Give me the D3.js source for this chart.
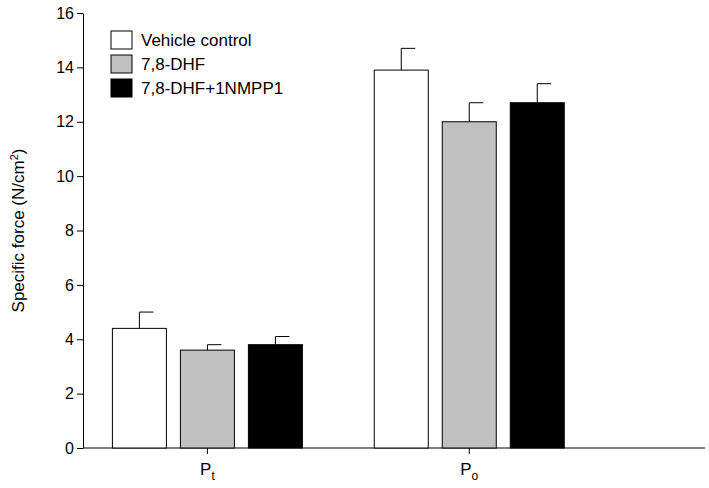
<!DOCTYPE html>
<html><head><meta charset="utf-8">
<script src="https://cdn.jsdelivr.net/npm/d3@7"></script>
<style>body{margin:0;background:#fff}svg{font-family:Arial,"Liberation Sans",sans-serif}</style>
</head><body>
<svg id="chart" width="709" height="488"></svg>
<script>
// data
const groups = ["Pt", "Po"]
const seriesNames = ["Vehicle control", "7,8-DHF", "7,8-DHF+1NMPP1"]
const seriesColors = ["#ffffff", "#c0c0c0", "#000000"]
const means = [[4.4, 3.6, 3.8], [13.9, 12.0, 12.7]]
const errs = [[0.6, 0.2, 0.3], [0.8, 0.7, 0.7]]
const yTicks = [0, 2, 4, 6, 8, 10, 12, 14, 16]

const svg = d3.select("#chart")
const mLeft = 83, mRight = 705, mTop = 13, mBottom = 448

const y = d3.scaleLinear().domain([0, 16]).range([mBottom, mTop])
const x = d3.scaleLinear().domain([0, 1]).range([mLeft, mRight])
// group centres as fractions of the axis width
const groupCenter = [0.2, 0.621]
const barW = 54, step = 68

svg.append("g").attr("transform", `translate(${mLeft},0)`)
    .call(d3.axisLeft(y).tickValues(yTicks).tickSize(6).tickSizeOuter(0))
    .call(g => g.selectAll("text").attr("font-size", 16).attr("fill", "#000").attr("font-family", "Arial, Liberation Sans, sans-serif"))
    .call(g => g.select(".domain").attr("stroke", "#000"))

svg.append("line").attr("x1", mLeft).attr("x2", mRight).attr("y1", mBottom).attr("y2", mBottom)
    .attr("stroke", "#000")

groups.forEach((gName, gi) => {
    const cx = x(groupCenter[gi])
    means[gi].forEach((v, si) => {
        const bx = cx + (si - 1) * step - barW / 2
        svg.append("rect").attr("x", bx).attr("y", y(v)).attr("width", barW)
            .attr("height", y(0) - y(v)).attr("fill", seriesColors[si]).attr("stroke", "#000")
        const mx = bx + barW / 2
        svg.append("line").attr("x1", mx).attr("x2", mx).attr("y1", y(v)).attr("y2", y(v + errs[gi][si])).attr("stroke", "#000")
        svg.append("line").attr("x1", mx).attr("x2", mx + 14).attr("y1", y(v + errs[gi][si])).attr("y2", y(v + errs[gi][si])).attr("stroke", "#000")
    })
    svg.append("line").attr("x1", cx).attr("x2", cx).attr("y1", mBottom).attr("y2", mBottom + 6).attr("stroke", "#000")
    const t = svg.append("text").attr("x", cx).attr("y", mBottom + 27).attr("text-anchor", "middle").attr("font-size", 17)
    t.append("tspan").text(gName[0])
    t.append("tspan").attr("dy", 5).attr("font-size", 12).text(gName.slice(1))
})

const yl = svg.append("text").attr("transform", `translate(24,${(mTop + mBottom) / 2}) rotate(-90)`)
    .attr("text-anchor", "middle").attr("font-size", 17)
yl.append("tspan").text("Specific force (N/cm")
yl.append("tspan").attr("dy", -6).attr("font-size", 11).text("2")
yl.append("tspan").attr("dy", 6).text(")")

seriesNames.forEach((n, i) => {
    const ly = 31 + i * 24
    svg.append("rect").attr("x", 111).attr("y", ly).attr("width", 21).attr("height", 18)
        .attr("fill", seriesColors[i]).attr("stroke", "#000")
    svg.append("text").attr("x", 141).attr("y", ly + 15).attr("font-size", 17).text(n)
})
</script>
</body></html>
